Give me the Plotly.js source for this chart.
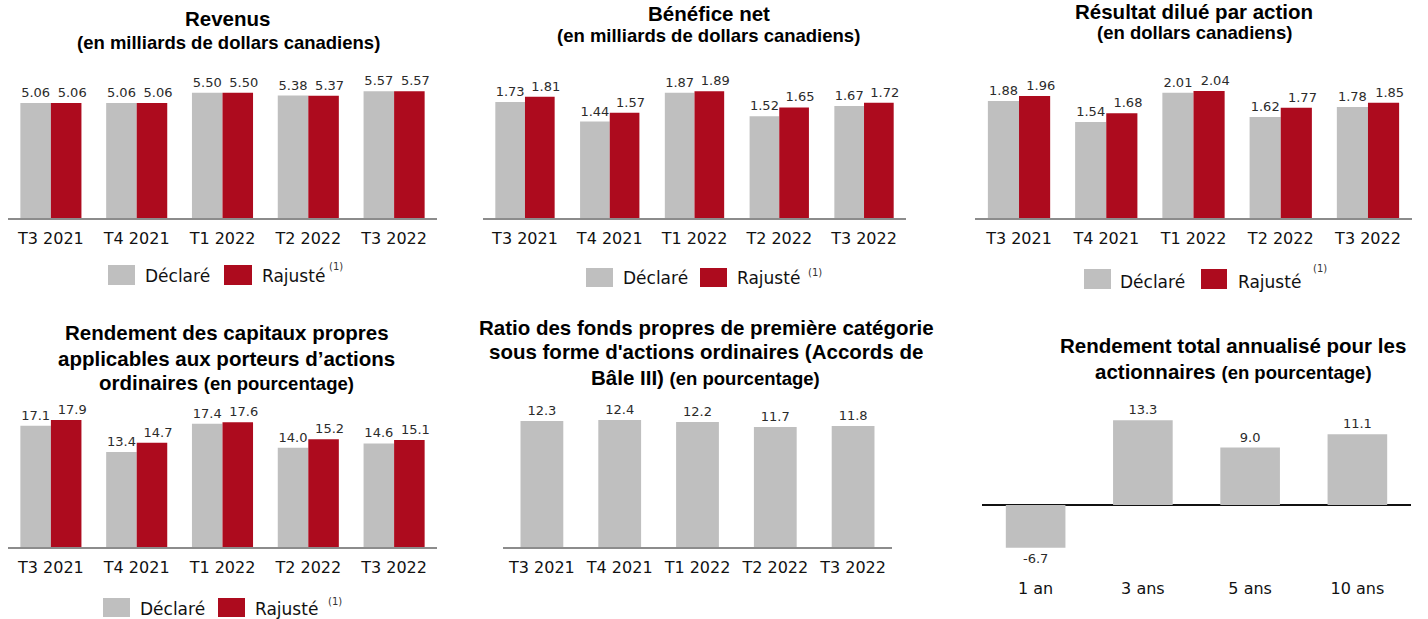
<!DOCTYPE html>
<html>
<head>
<meta charset="utf-8">
<script src="https://cdn.plot.ly/plotly-3.0.1.min.js"></script>
<style>html,body{margin:0;padding:0;background:#fff;}#chart{width:1428px;height:619px;}</style>
</head>
<body>
<div id="chart"></div>
<script>
// ---- Data ----
const quarters = ['T3 2021', 'T4 2021', 'T1 2022', 'T2 2022', 'T3 2022'];
const revenusDeclare = [5.06, 5.06, 5.50, 5.38, 5.57];
const revenusRajuste = [5.06, 5.06, 5.50, 5.37, 5.57];
const beneficeDeclare = [1.73, 1.44, 1.87, 1.52, 1.67];
const beneficeRajuste = [1.81, 1.57, 1.89, 1.65, 1.72];
const resultatDeclare = [1.88, 1.54, 2.01, 1.62, 1.78];
const resultatRajuste = [1.96, 1.68, 2.04, 1.77, 1.85];
const rcpDeclare = [17.1, 13.4, 17.4, 14.0, 14.6];
const rcpRajuste = [17.9, 14.7, 17.6, 15.2, 15.1];
const ratioCET1 = [12.3, 12.4, 12.2, 11.7, 11.8];
const periodes = ['1 an', '3 ans', '5 ans', '10 ans'];
const rendementTotal = [-6.7, 13.3, 9.0, 11.1];

// ---- Styles ----
const W = 1428, H = 619;
const GREY = '#bfbfbf', RED = '#ad0b1e';
const LABEL_FONT = {family: 'DejaVu Sans', size: 13, color: '#2b2b2b'};
const TICK_FONT = {family: 'DejaVu Sans', size: 16, color: '#111111'};
const TITLE_FAM = 'Liberation Sans, Arial, sans-serif';
const px = x => x / W;
const py = y => 1 - y / H;
const LABEL_NUDGE = 0.07; // adjusted-value labels sit slightly right of their bar

function pairTraces(xa, ya, dec, raj, fmt, w) {
  return [
    {type: 'bar', x: quarters, y: dec, xaxis: xa, yaxis: ya, width: w, offset: -w,
     marker: {color: GREY}, text: dec.map(v => v.toFixed(fmt)), textposition: 'outside',
     textfont: LABEL_FONT, constraintext: 'none', cliponaxis: false, hoverinfo: 'x+y', showlegend: false},
    {type: 'bar', x: quarters, y: raj, xaxis: xa, yaxis: ya, width: w, offset: 0,
     marker: {color: RED}, hoverinfo: 'x+y', showlegend: false},
    // transparent carrier for the adjusted-value labels
    {type: 'bar', x: quarters, y: raj, xaxis: xa, yaxis: ya, width: w, offset: LABEL_NUDGE,
     marker: {color: 'rgba(0,0,0,0)'}, text: raj.map(v => v.toFixed(fmt)), textposition: 'outside',
     textfont: LABEL_FONT, constraintext: 'none', cliponaxis: false, hoverinfo: 'skip', showlegend: false}
  ];
}
function singleTrace(xa, ya, cats, vals, w) {
  return {type: 'bar', x: cats, y: vals, xaxis: xa, yaxis: ya, width: w, offset: -w / 2,
    marker: {color: GREY}, text: vals.map(v => v.toFixed(1)), textposition: 'outside',
    textfont: LABEL_FONT, constraintext: 'none', cliponaxis: false, hoverinfo: 'x+y', showlegend: false};
}

const traces = [
  ...pairTraces('x', 'y', revenusDeclare, revenusRajuste, 2, 0.356),
  ...pairTraces('x2', 'y2', beneficeDeclare, beneficeRajuste, 2, 0.35),
  ...pairTraces('x3', 'y3', resultatDeclare, resultatRajuste, 2, 0.357),
  ...pairTraces('x4', 'y4', rcpDeclare, rcpRajuste, 1, 0.356),
  singleTrace('x5', 'y5', quarters, ratioCET1, 0.55),
  singleTrace('x6', 'y6', periodes, rendementTotal, 0.556)
];

function xax(x0, x1, n, anchor, line) {
  return {domain: [px(x0), px(x1)], anchor: anchor, type: 'category', range: [-0.5, n - 0.5],
    showline: line, linecolor: '#8c8c8c', linewidth: 1.5, ticks: '', showgrid: false, zeroline: false,
    tickfont: TICK_FONT, ticklabelstandoff: 5, fixedrange: true};
}
function yax(base, top, r, anchor) {
  return {domain: [py(base), py(top)], anchor: anchor, range: r, showticklabels: false, ticks: '',
    showgrid: false, zeroline: false, showline: false, fixedrange: true};
}

const layout = {
  width: W, height: H, margin: {l: 0, r: 0, t: 0, b: 0},
  paper_bgcolor: '#fff', plot_bgcolor: '#fff', barmode: 'overlay', showlegend: false,
  xaxis: xax(8, 437, 5, 'y', true),
  yaxis: yax(218, 218 - 6 * 22.75, [0, 6], 'x'),
  xaxis2: xax(482.6, 906.4, 5, 'y2', true),
  yaxis2: yax(218, 218 - 2 * 67, [0, 2], 'x2'),
  xaxis3: xax(975.4, 1411.6, 5, 'y3', true),
  yaxis3: yax(218, 218 - 2.2 * 62.3, [0, 2.2], 'x3'),
  xaxis4: xax(8, 437, 5, 'y4', true),
  yaxis4: yax(547, 547 - 20 * 7.09, [0, 20], 'x4'),
  xaxis5: xax(503, 892, 5, 'y5', true),
  yaxis5: yax(547, 547 - 13 * 10.25, [0, 13], 'x5'),
  xaxis6: xax(982, 1411, 4, 'y6', false),
  yaxis6: Object.assign(yax(505 + 10.5 * 6.38, 505 - 15 * 6.38, [-10.5, 15], 'x6'),
    {zeroline: true, zerolinecolor: '#111', zerolinewidth: 1.8}),
  annotations: [],
  shapes: []
};

function title(text, cx, cy, size) {
  layout.annotations.push({xref: 'paper', yref: 'paper', x: px(cx), y: py(cy), xanchor: 'center', yanchor: 'middle',
    text: text, showarrow: false, font: {family: TITLE_FAM, size: size, color: '#000', weight: 'bold'}});
}
const SUB = s => '<span style="font-size:18.5px">' + s + '</span>';

title('Revenus', 228, 19, 20.5);
title('(en milliards de dollars canadiens)', 228.5, 42, 18.5);
title('Bénéfice net', 708.5, 13, 20.5);
title('(en milliards de dollars canadiens)', 708, 36, 18.5);
title('Résultat dilué par action', 1194, 11, 20.5);
title('(en dollars canadiens)', 1194.5, 32, 18.5);
title('Rendement des capitaux propres', 226.5, 333, 20.5);
title('applicables aux porteurs d’actions', 226.7, 358, 20.5);
title('ordinaires ' + SUB('(en pourcentage)'), 226.7, 382, 20.5);
title('Ratio des fonds propres de première catégorie', 706.7, 327, 20.5);
title("sous forme d'actions ordinaires (Accords de", 705.8, 351, 20.5);
title('Bâle III) ' + SUB('(en pourcentage)'), 705.8, 377, 20.5);
title('Rendement total annualisé pour les', 1233.3, 345, 20.5);
title('actionnaires ' + SUB('(en pourcentage)'), 1233.8, 371, 20.5);

// custom legends: [greyBox x0,x1, redBox x0,x1, y0,y1, textDec x, textRaj x, text y, sup x, sup y]
const legends = [
  [108, 135, 224, 252, 265, 285, 143, 260, 276, 327, 267],
  [586, 613, 700, 727, 268, 287, 621, 735, 278, 806, 272],
  [1084, 1111, 1201, 1227, 269, 289, 1118, 1236, 282, 1311, 268],
  [103, 130, 218, 245, 598, 617, 138, 253, 609, 326, 601]
];
const LEG_FONT = {family: 'DejaVu Sans', size: 17, color: '#111111'};
legends.forEach(L => {
  layout.shapes.push({type: 'rect', xref: 'paper', yref: 'paper', x0: px(L[0]), x1: px(L[1]), y0: py(L[5]), y1: py(L[4]),
    fillcolor: GREY, line: {width: 0}});
  layout.shapes.push({type: 'rect', xref: 'paper', yref: 'paper', x0: px(L[2]), x1: px(L[3]), y0: py(L[5]), y1: py(L[4]),
    fillcolor: RED, line: {width: 0}});
  layout.annotations.push({xref: 'paper', yref: 'paper', x: px(L[6]), y: py(L[8]), xanchor: 'left', yanchor: 'middle',
    text: 'Déclaré', showarrow: false, font: LEG_FONT});
  layout.annotations.push({xref: 'paper', yref: 'paper', x: px(L[7]), y: py(L[8]), xanchor: 'left', yanchor: 'middle',
    text: 'Rajusté', showarrow: false, font: LEG_FONT});
  layout.annotations.push({xref: 'paper', yref: 'paper', x: px(L[9]), y: py(L[10]), xanchor: 'left', yanchor: 'middle',
    text: '(1)', showarrow: false, font: {family: 'DejaVu Sans', size: 10, color: '#333'}});
});

Plotly.newPlot('chart', traces, layout, {displayModeBar: false, staticPlot: true});
</script>
</body>
</html>
